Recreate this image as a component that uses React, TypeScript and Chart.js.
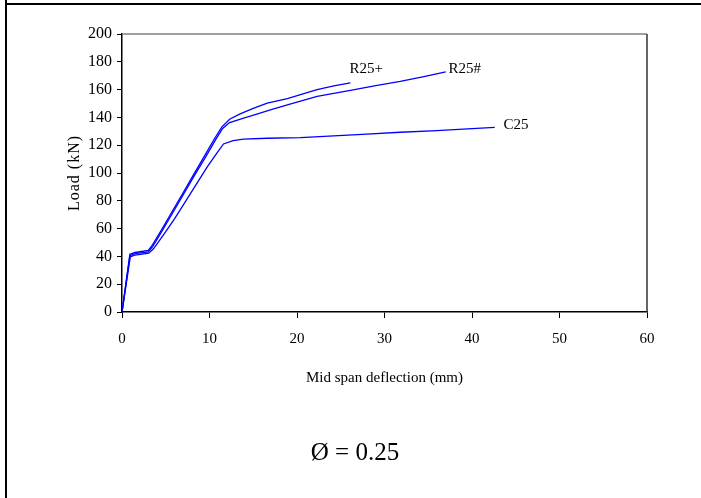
import React, { useEffect, useRef } from "react";
import { Chart, registerables } from "chart.js";

Chart.register(...registerables);

// ---- data ----
const r25PlusX = [0, 0.9, 1.5, 3.0, 3.4, 4.5, 5.8, 7.0, 8.2, 9.5, 10.6, 11.4, 12.3, 13.5, 15.0, 16.6, 18.9, 20.5, 22.3, 24.2, 26.1];
const r25PlusY = [0, 41.5, 42.8, 44.3, 47.5, 59, 73, 86, 99, 113, 125, 133, 138.7, 142.5, 146.5, 150.2, 153.5, 156.5, 159.9, 162.7, 164.8];

const r25HashX = [0, 0.9, 1.5, 3.0, 3.5, 4.6, 5.9, 7.1, 8.3, 9.6, 10.7, 11.5, 12.3, 13.9, 15.5, 16.95, 18.9, 22.3, 26.1, 29.0, 31.8, 34.5, 37.0];
const r25HashY = [0, 40.5, 42.0, 43.2, 47, 58.5, 72.5, 85.5, 98.5, 112, 124, 132, 136.3, 139.4, 142.5, 145.4, 149, 155.1, 159.4, 162.8, 165.9, 169.3, 172.7];

const c25X = [0, 0.95, 1.5, 3.05, 3.6, 4.8, 6.0, 7.3, 8.5, 9.8, 10.8, 11.6, 12.7, 13.9, 16.6, 20.4, 24.2, 28.0, 31.8, 36.0, 39.5, 42.6];
const c25Y = [0, 39.7, 41.0, 42.3, 45.5, 56, 67, 80, 92, 105, 114, 120.9, 123.3, 124.3, 125, 125.5, 126.7, 127.9, 129.3, 130.5, 131.7, 132.8];

const xTicks = [0, 10, 20, 30, 40, 50, 60];
const yTicks = [0, 20, 40, 60, 80, 100, 120, 140, 160, 180, 200];

const seriesNames = ["R25+", "R25#", "C25"];
// label anchor positions in data units
const labelX = [26.0, 37.3, 43.6];
const labelY = [175, 175, 134.7];

const xTitle = "Mid span deflection (mm)";
const yTitle = "Load (kN)";
const caption = "Ø = 0.25";

const toPts = (xs: number[], ys: number[]) => xs.map((x, i) => ({ x, y: ys[i] }));

const serif = "'Liberation Serif', 'Times New Roman', serif";

export default function App() {
  const ref = useRef<HTMLCanvasElement | null>(null);

  useEffect(() => {
    document.body.style.margin = "0";
    const canvas = ref.current;
    if (!canvas) return;

    const annotate = {
      id: "annotate",
      afterDraw(chart: any) {
        const { ctx, chartArea } = chart;
        const xs = chart.scales.x;
        const ys = chart.scales.y;
        ctx.save();
        // plot frame top (gray) and right
        ctx.strokeStyle = "#7f7f7f";
        ctx.lineWidth = 1.5;
        ctx.beginPath();
        ctx.moveTo(chartArea.left, chartArea.top);
        ctx.lineTo(chartArea.right, chartArea.top);
        ctx.stroke();
        ctx.strokeStyle = "#333";
        ctx.beginPath();
        ctx.moveTo(chartArea.right, chartArea.top);
        ctx.lineTo(chartArea.right, chartArea.bottom);
        ctx.stroke();

        // series labels
        ctx.fillStyle = "#000";
        ctx.font = `15px ${serif}`;
        ctx.textAlign = "left";
        ctx.textBaseline = "middle";
        seriesNames.forEach((n, i) => {
          ctx.fillText(n, xs.getPixelForValue(labelX[i]), ys.getPixelForValue(labelY[i]));
        });

        // x title
        ctx.textAlign = "center";
        ctx.font = `15px ${serif}`;
        ctx.fillText(xTitle, (chartArea.left + chartArea.right) / 2, 378);

        // y title
        ctx.save();
        ctx.translate(75, (chartArea.top + chartArea.bottom) / 2);
        ctx.rotate(-Math.PI / 2);
        ctx.font = `16px ${serif}`;
        (ctx as any).letterSpacing = "1px";
        ctx.fillText(yTitle, 0, 0);
        ctx.restore();

        // caption
        ctx.font = `25px ${serif}`;
        ctx.textAlign = "center";
        ctx.fillText(caption, 355, 453);
        ctx.restore();
      },
    };

    const mk = (label: string, xs: number[], ys: number[]) => ({
      label,
      data: toPts(xs, ys),
      borderColor: "rgb(0,0,255)",
      backgroundColor: "rgb(0,0,255)",
      borderWidth: 1.3,
      pointRadius: 0,
      tension: 0,
      fill: false,
    });

    const chart = new Chart(canvas, {
      type: "line",
      data: {
        datasets: [
          mk(seriesNames[0], r25PlusX, r25PlusY),
          mk(seriesNames[1], r25HashX, r25HashY),
          mk(seriesNames[2], c25X, c25Y),
        ],
      },
      options: {
        animation: false,
        responsive: true,
        maintainAspectRatio: false,
        layout: { padding: { left: 0, top: 34, right: 54, bottom: 0 } },
        plugins: { legend: { display: false }, tooltip: { enabled: false } },
        scales: {
          x: {
            type: "linear",
            min: 0,
            max: 60,
            afterFit: (s: any) => {
              s.height = 186;
            },
            afterBuildTicks: (s: any) => {
              s.ticks = xTicks.map((v) => ({ value: v }));
            },
            ticks: {
              color: "#000",
              font: { family: serif, size: 15 },
              padding: 12,
              maxRotation: 0,
            },
            grid: { drawOnChartArea: false, drawTicks: true, tickLength: 6, color: "#000", lineWidth: 1 },
            border: { display: true, color: "#000", width: 1.5 },
          },
          y: {
            type: "linear",
            min: 0,
            max: 200,
            afterFit: (s: any) => {
              s.width = 122;
            },
            afterBuildTicks: (s: any) => {
              s.ticks = yTicks.map((v) => ({ value: v }));
            },
            ticks: {
              color: "#000",
              font: { family: serif, size: 16 },
              padding: 5,
            },
            grid: { drawOnChartArea: false, drawTicks: true, tickLength: 5, color: "#000", lineWidth: 1 },
            border: { display: true, color: "#000", width: 1.5 },
          },
        },
      },
      plugins: [annotate],
    });

    return () => chart.destroy();
  }, []);

  return (
    <div style={{ position: "relative", width: 701, height: 498, background: "#fff", overflow: "hidden" }}>
      <canvas ref={ref} style={{ position: "absolute", left: 0, top: 0 }} />
      <div style={{ position: "absolute", left: 5, top: 0, width: 2, height: 498, background: "#000" }} />
      <div style={{ position: "absolute", left: 5, top: 3, width: 696, height: 2, background: "#000" }} />
    </div>
  );
}
